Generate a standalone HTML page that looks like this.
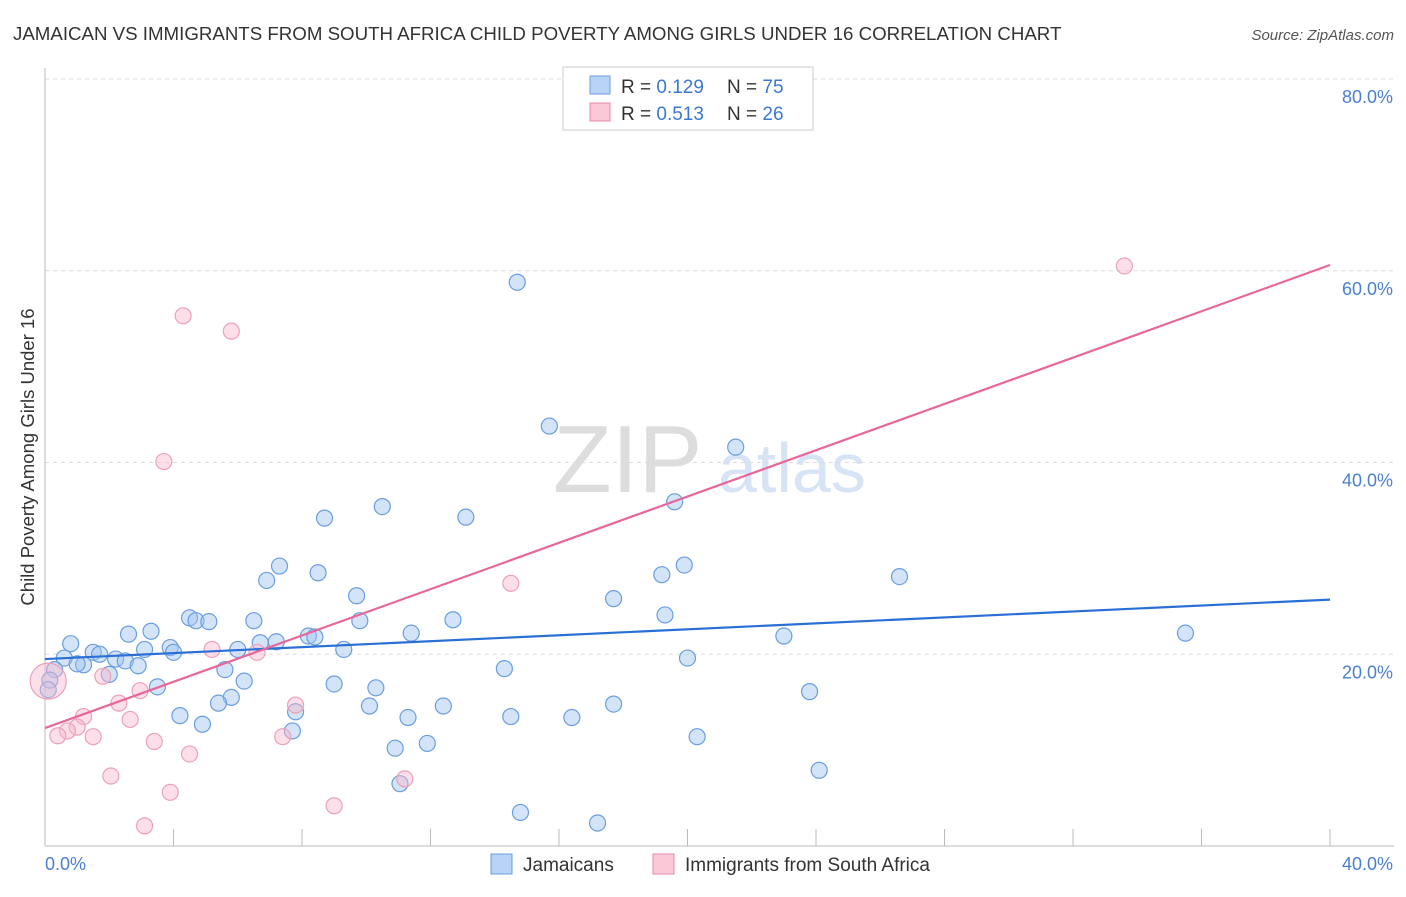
<!DOCTYPE html>
<html><head><meta charset="utf-8"><style>
body{margin:0;background:#fff;font-family:"Liberation Sans",sans-serif}
svg text{font-family:"Liberation Sans",sans-serif}
</style></head><body>
<svg id="chart" width="1406" height="892" xmlns="http://www.w3.org/2000/svg">
<text x="13" y="40" font-size="18.7" fill="#333">JAMAICAN VS IMMIGRANTS FROM SOUTH AFRICA CHILD POVERTY AMONG GIRLS UNDER 16 CORRELATION CHART</text>
<text x="1394" y="40" font-size="15" fill="#555" text-anchor="end" font-style="italic">Source: ZipAtlas.com</text>
<g>
<text x="553" y="492" font-size="96" fill="#ddd" font-family="Liberation Serif">ZIP</text>
<text x="718" y="492" font-size="70" fill="#d6e4f5">atlas</text>
</g>
<g id="grid"></g>
<line x1="45" y1="846" x2="1394" y2="846" stroke="#bbb"/>
<line x1="45" y1="68" x2="45" y2="846" stroke="#bbb"/>
<text transform="translate(34,457) rotate(-90)" font-size="18.5" fill="#333" text-anchor="middle">Child Poverty Among Girls Under 16</text>
<text x="45" y="870" font-size="18" fill="#4a7fd4">0.0%</text>
<text x="1393" y="870" font-size="18" fill="#4a7fd4" text-anchor="end">40.0%</text>
<g id="points"></g>
<g id="lines"></g>
<g>
<rect x="563" y="67" width="250" height="63" fill="#fff" stroke="#ccc"/>
<rect x="590" y="76" width="20" height="18" fill="#b8d3f5" stroke="#6a9ee0"/>
<rect x="590" y="103" width="20" height="18" fill="#fbc8d8" stroke="#e88aa8"/>
<text x="621" y="93" font-size="19" fill="#333">R = <tspan fill="#3a78d4">0.129</tspan></text>
<text x="727" y="93" font-size="19" fill="#333">N = <tspan fill="#3a78d4">75</tspan></text>
<text x="621" y="120" font-size="19" fill="#333">R = <tspan fill="#3a78d4">0.513</tspan></text>
<text x="727" y="120" font-size="19" fill="#333">N = <tspan fill="#3a78d4">26</tspan></text>
</g>
<g>
<rect x="491" y="854" width="21" height="20" fill="#b8d3f5" stroke="#6a9ee0"/>
<text x="523" y="871" font-size="19" fill="#333">Jamaicans</text>
<rect x="653" y="854" width="21" height="20" fill="#fbc8d8" stroke="#e88aa8"/>
<text x="685" y="871" font-size="19" fill="#333">Immigrants from South Africa</text>
</g>
</svg>
<script>
const yTicks=[20,40,60,80];
const yTickLabels=["20.0%","40.0%","60.0%","80.0%"];
const xTickVals=[0,4,8,12,16,20,24,28,32,36,40];
const jamX=[14.7,15.7,21.5,19.6,10.5,13.1,8.7,7.3,8.5,6.9,19.9,19.2,26.6,17.7,9.7,19.3,12.7,9.8,4.5,4.7,5.1,6.5,3.3,2.6,11.4,23.0,35.5,8.2,8.4,7.2,6.7,6.0,3.9,4.0,3.1,0.8,1.5,1.7,0.6,2.2,2.5,1.2,1.0,2.9,0.3,2.0,5.6,20.0,14.3,6.2,9.0,3.5,10.3,5.8,23.8,5.4,10.1,12.4,17.7,4.2,11.3,14.5,16.4,4.9,7.7,20.3,10.9,11.9,7.8,9.3,24.1,11.05,14.8,17.2,0.15,0.1];
const jamY=[basey(282),basey(426),basey(447),basey(502),basey(507),basey(517),basey(518),basey(566),basey(573),basey(580),basey(565),basey(575),basey(577),basey(599),basey(596),basey(615),basey(620),basey(621),basey(618),basey(621),basey(622),basey(621),basey(631),basey(634),basey(633),basey(636),basey(633),basey(636),basey(637),basey(642),basey(643),basey(649),basey(648),basey(652),basey(649),basey(644),basey(652),basey(654),basey(658),basey(659),basey(661),basey(665),basey(664),basey(666),basey(670),basey(674),basey(670),basey(658),basey(669),basey(681),basey(684),basey(687),basey(688),basey(697),basey(692),basey(703),basey(706),basey(706),basey(704),basey(716),basey(718),basey(717),basey(718),basey(724),basey(731),basey(737),basey(748),basey(743),basey(712),basey(649),basey(770),basey(784),basey(812),basey(823),basey(680),basey(690)];
function basey(p){return +((846-p)/9.5875).toFixed(1);}
const saX=[33.6,4.3,5.8,3.7,14.5,5.2,6.6,1.8,2.96,2.3,7.8,1.2,2.65,1.0,0.7,0.4,1.5,7.4,3.4,4.5,2.05,11.2,9.0,3.9,3.1,0.1];
const saY=[60.5,55.3,53.7,40.1,27.4,20.5,20.2,17.7,16.2,14.9,14.7,13.5,13.2,12.4,12.0,11.5,11.4,11.4,10.9,9.6,7.3,7.0,4.2,5.6,2.1,17.2];
const jamLine=[19.5,25.7];
const saLine=[12.3,60.6];
const X=v=>45+v*32.125, Y=v=>846-v*9.5875;
const NS="http://www.w3.org/2000/svg";
function mk(t,a,p){const e=document.createElementNS(NS,t);for(const k in a)e.setAttribute(k,a[k]);p.appendChild(e);return e;}
const grid=document.getElementById('grid');
yTicks.forEach((t,i)=>{
 const l=mk('line',{x1:45,x2:1394,y1:Y(t),y2:Y(t),stroke:'#ddd','stroke-dasharray':'4,4'},grid);
 
 
 const tx=mk('text',{x:1393,y:Y(t)+24,'font-size':18,fill:'#4a7fd4','text-anchor':'end'},grid);
 tx.textContent=yTickLabels[i];
 
 
});
xTickVals.forEach(t=>{
 const l=mk('line',{x1:X(t),x2:X(t),y1:829,y2:846,stroke:'#bbb'},grid);
 
 
});
const pts=document.getElementById('points');
jamX.forEach((x,i)=>{
 const c=mk('circle',{cx:X(x),cy:Y(jamY[i]),r:8,fill:'rgba(160,196,240,0.45)',stroke:'#6a9ee0','stroke-width':1.2},pts);
 
 
});
saX.forEach((x,i)=>{
 const c=mk('circle',{cx:X(x),cy:Y(saY[i]),r:i==saX.length-1?18:8,fill:'rgba(248,184,206,0.45)',stroke:'#eda0ba','stroke-width':1.2},pts);
 
 
});
const ln=document.getElementById('lines');
const b=mk('line',{x1:X(0),y1:Y(jamLine[0]),x2:X(40),y2:Y(jamLine[1]),stroke:'#2a6fd6','stroke-width':2.2},ln);


const p=mk('line',{x1:X(0),y1:Y(saLine[0]),x2:X(40),y2:Y(saLine[1]),stroke:'#e8679a','stroke-width':2.2},ln);


</script>
</body></html>
